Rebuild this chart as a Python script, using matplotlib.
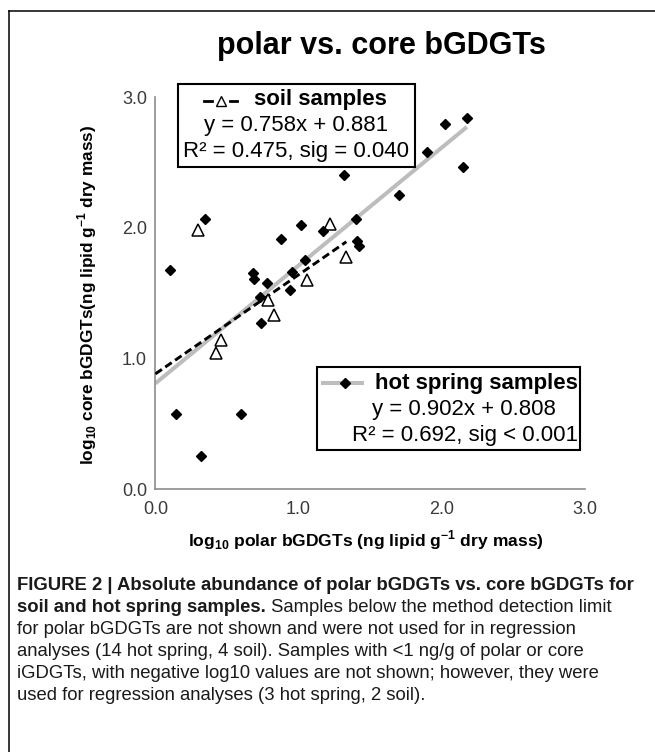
import matplotlib
matplotlib.use("Agg")
import matplotlib.pyplot as plt
from matplotlib.patches import Rectangle
from matplotlib.lines import Line2D

plt.rcParams['font.family'] = ['Liberation Sans', 'DejaVu Sans']
plt.rcParams['mathtext.fontset'] = 'custom'
plt.rcParams['mathtext.rm'] = 'Liberation Sans'
plt.rcParams['mathtext.bf'] = 'Liberation Sans:bold'

# hot spring samples (black diamonds), log10 polar vs log10 core
hot_x = [0.105, 0.144, 0.319, 0.344, 0.598, 0.680, 0.689, 0.731, 0.736, 0.777,
         0.876, 0.940, 0.957, 1.016, 1.048, 1.170, 1.318, 1.400, 1.410, 1.420,
         1.700, 1.900, 2.020, 2.150, 2.176]
hot_y = [1.676, 0.574, 0.252, 2.066, 0.574, 1.650, 1.604, 1.471, 1.268, 1.574,
         1.910, 1.520, 1.660, 2.020, 1.755, 1.974, 2.400, 2.070, 1.900, 1.860,
         2.250, 2.580, 2.790, 2.466, 2.840]

# soil samples (open triangles)
soil_x = [0.300, 0.421, 0.456, 0.785, 0.829, 1.057, 1.220, 1.334]
soil_y = [1.980, 1.043, 1.140, 1.446, 1.331, 1.600, 2.025, 1.777]

# regression fits (slope, intercept)
hot_fit = (0.902, 0.808)
soil_fit = (0.758, 0.881)

ticks = [0.0, 1.0, 2.0, 3.0]

W, H = 655, 752
def fx(px):
    return px / W
def fy(py):
    return 1 - py / H

fig = plt.figure(figsize=(W / 100, H / 100), dpi=100)
ax = fig.add_axes([fx(155.4), fy(489), (584.8 - 155.4) / W, (489 - 97) / H])

# fitted lines, from 0 to the largest x of each group
hx = [0, max(hot_x)]
ax.plot(hx, [hot_fit[1] + hot_fit[0] * v for v in hx], color='#bdbdbd', lw=2.9,
        solid_capstyle='butt', zorder=2)
sx = [0, max(soil_x)]
ax.plot(sx, [soil_fit[1] + soil_fit[0] * v for v in sx], color='black', lw=2.1,
        dashes=(2.7, 1.4), zorder=3)

ax.plot(soil_x, soil_y, ls='none', marker='^', ms=8.5, mfc='white', mec='black',
        mew=1.1, zorder=4)
ax.plot(hot_x, hot_y, ls='none', marker='D', ms=5.3, mfc='black', mec='black',
        zorder=5)

ax.set_xlim(0, 3)
ax.set_ylim(0, 3)
ax.set_xticks(ticks)
ax.set_yticks(ticks)
ax.set_xticklabels(['%.1f' % t for t in ticks])
ax.set_yticklabels(['%.1f' % t for t in ticks])
ax.tick_params(axis='both', length=0, labelsize=13, labelcolor='#3a3a3a')
ax.tick_params(axis='x', pad=9)
ax.tick_params(axis='y', pad=6)
for s in ['top', 'right']:
    ax.spines[s].set_visible(False)
for s in ['left', 'bottom']:
    ax.spines[s].set_color('#8c8c8c')
    ax.spines[s].set_linewidth(1.2)

# title and axis labels
fig.text(fx(381), fy(46), 'polar vs. core bGDGTs', ha='center', va='center',
         fontsize=22, fontweight='bold')
fig.text(fx(366), fy(540), r'log$_{\mathbf{10}}$ polar bGDGTs (ng lipid g$^{\mathbf{-1}}$ dry mass)',
         ha='center', va='center', fontsize=12.6, fontweight='bold')
fig.text(fx(87), fy(295), r'log$_{\mathbf{10}}$ core bGDGTs(ng lipid g$^{\mathbf{-1}}$ dry mass)',
         ha='center', va='center', rotation=90, fontsize=12.4, fontweight='bold')

# soil legend box
fig.add_artist(Rectangle((fx(178), fy(167)), (415 - 178) / W, (167 - 84) / H,
                         transform=fig.transFigure, fill=False, ec='black', lw=1.5))
for a, b in [(204, 212), (230, 237)]:
    fig.add_artist(Line2D([fx(a), fx(b)], [fy(101), fy(101)], color='black', lw=2.0))
fig.add_artist(Line2D([fx(221)], [fy(101)], marker='^', ms=7, mfc='white', mec='black',
                      mew=1.0, ls='none'))
fig.text(fx(254), fy(100), 'soil samples', ha='left', va='center', fontsize=16,
         fontweight='bold')
fig.text(fx(296), fy(126), 'y = 0.758x + 0.881', ha='center', va='center', fontsize=16)
fig.text(fx(296), fy(152), 'R² = 0.475, sig = 0.040', ha='center', va='center', fontsize=16)

# hot spring legend box
fig.add_artist(Rectangle((fx(317), fy(450)), (580 - 317) / W, (450 - 367) / H,
                         transform=fig.transFigure, fill=False, ec='black', lw=1.5))
fig.add_artist(Line2D([fx(323), fx(362)], [fy(383), fy(383)], color='#bdbdbd', lw=2.9))
fig.add_artist(Line2D([fx(345)], [fy(383)], marker='D', ms=5.3, color='black', ls='none'))
fig.text(fx(375), fy(384), 'hot spring samples', ha='left', va='center', fontsize=16,
         fontweight='bold')
fig.text(fx(464), fy(410), 'y = 0.902x + 0.808', ha='center', va='center', fontsize=16)
fig.text(fx(465), fy(436), 'R² = 0.692, sig < 0.001', ha='center', va='center', fontsize=16)

# frame lines (top and left)
fig.add_artist(Line2D([fx(9), 1], [fy(11), fy(11)], color='black', lw=1.1))
fig.add_artist(Line2D([fx(9), fx(9)], [fy(11), 0], color='black', lw=1.1))

# caption
cap_size = 13.3
cap_col = '#1a1a1a'
fig.text(fx(17), fy(585), 'FIGURE 2 | Absolute abundance of polar bGDGTs vs. core bGDGTs for',
         ha='left', va='center', fontsize=cap_size, fontweight='bold', color=cap_col)
t_bold = fig.text(fx(17), fy(607), 'soil and hot spring samples.', ha='left', va='center',
                  fontsize=cap_size, fontweight='bold', color=cap_col)
fig.canvas.draw()
bb = t_bold.get_window_extent()
fig.text(bb.x1 / fig.bbox.width, fy(607), ' Samples below the method detection limit',
         ha='left', va='center', fontsize=cap_size, color=cap_col)
lines = ['for polar bGDGTs are not shown and were not used for in regression',
         'analyses (14 hot spring, 4 soil). Samples with <1 ng/g of polar or core',
         'iGDGTs, with negative log10 values are not shown; however, they were',
         'used for regression analyses (3 hot spring, 2 soil).']
for i, s in enumerate(lines):
    fig.text(fx(17), fy(629 + 22 * i), s, ha='left', va='center', fontsize=cap_size,
             color=cap_col)

fig.savefig('out.png', dpi=100)
